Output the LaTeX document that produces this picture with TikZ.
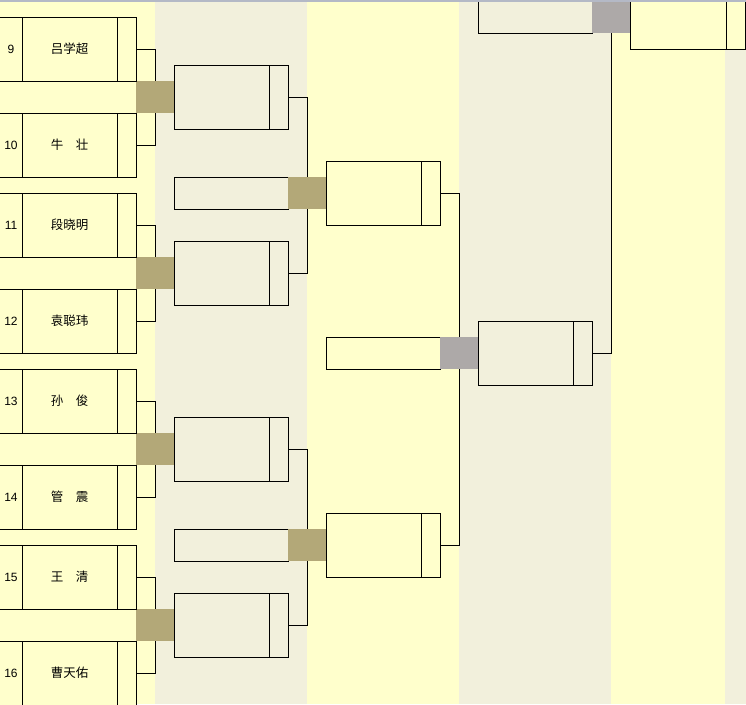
\documentclass[tikz,border=0pt]{standalone}
\usepackage{fontspec}
\setmainfont{Liberation Sans}
\newfontfamily\cjk{Noto Sans CJK SC}
\definecolor{ylw}{HTML}{FFFFCC}
\definecolor{bge}{HTML}{F2F0DC}
\definecolor{khaki}{HTML}{B3A878}
\definecolor{gry}{HTML}{ADA9A8}
\definecolor{hdr}{HTML}{B4B9C6}
\tikzset{
  boxbase/.style={draw=black, line width=1pt, inner sep=0pt, outer sep=0pt, anchor=north west},
  pbox/.style={boxbase, fill=ylw, minimum width=138pt, minimum height=64pt},
  rboxb/.style={boxbase, fill=bge, minimum width=114pt, minimum height=64pt},
  rboxy/.style={boxbase, fill=ylw, minimum width=114pt, minimum height=64pt},
  eboxb/.style={boxbase, fill=bge, minimum width=114pt, minimum height=32pt},
  eboxy/.style={boxbase, fill=ylw, minimum width=114pt, minimum height=32pt},
  kbox/.style={fill=khaki, inner sep=0pt, outer sep=0pt, minimum width=38pt, minimum height=32pt, anchor=north west},
  gbox/.style={kbox, fill=gry},
  conn/.style={draw=black, line width=1pt},
  numtxt/.style={font=\fontsize{12}{14}\selectfont, inner sep=0pt},
  nametxt/.style={font=\cjk\fontsize{12.5}{14}\selectfont, inner sep=0pt}
}
\begin{document}
\begin{tikzpicture}[x=1pt,y=-1pt]
\useasboundingbox (0,0) rectangle (746,704);
% column backgrounds
\fill[ylw] (0,0) rectangle (155,704);
\fill[bge] (155,0) rectangle (307,704);
\fill[ylw] (307,0) rectangle (459,704);
\fill[bge] (459,0) rectangle (611,704);
\fill[ylw] (611,0) rectangle (725,704);
\fill[bge] (725,0) rectangle (746,704);
% round 1 pairs
\foreach \i/\na/\nb/\ta/\tb in {0/9/10/吕学超/牛　壮, 1/11/12/段晓明/袁聪玮, 2/13/14/孙　俊/管　震, 3/15/16/王　清/曹天佑}{
  \pgfmathsetmacro{\b}{17+176*\i}
  \node[kbox] (k\i) at (136,\b+64) {};
  \node[pbox] (pa\i) at (-2,\b) {};
  \node[pbox] (pb\i) at (-2,\b+96) {};
  \draw[conn] (22,\b) -- (22,\b+64) (117,\b) -- (117,\b+64);
  \draw[conn] (22,\b+96) -- (22,\b+160) (117,\b+96) -- (117,\b+160);
  \node[numtxt] (na\i) at (11,\b+32) {\na};
  \node[numtxt] (nb\i) at (11,\b+128) {\nb};
  \node[nametxt] (ta\i) at (69.5,\b+32) {\ta};
  \node[nametxt] (tb\i) at (69.5,\b+128) {\tb};
  \node[rboxb] (r\i) at (174,\b+48) {};
  \draw[conn] (269,\b+48) -- (269,\b+112);
  \draw[conn] (pa\i.east) -| (k\i.north);
  \draw[conn] (pb\i.east) -| (k\i.south);
}
% round 2 -> 3
\foreach \j/\u/\v in {0/0/1, 1/2/3}{
  \pgfmathsetmacro{\B}{17+352*\j}
  \node[eboxb] (e\j) at (174,\B+160) {};
  \node[kbox] (kk\j) at (288,\B+160) {};
  \node[rboxy] (s\j) at (326,\B+144) {};
  \draw[conn] (421,\B+144) -- (421,\B+208);
  \draw[conn] (r\u.east) -| (kk\j.north);
  \draw[conn] (r\v.east) -| (kk\j.south);
}
% round 3 -> 4
\node[eboxy] (em) at (326,337) {};
\node[gbox] (gm) at (440,337) {};
\node[rboxb] (q) at (478,321) {};
\draw[conn] (573,321) -- (573,385);
\draw[conn] (s0.east) -| (gm.north);
\draw[conn] (s1.east) -| (gm.south);
% final
\node[eboxb] (et) at (478,1) {};
\node[gbox] (gt) at (592,1) {};
\node[rboxy, minimum width=115pt] (f) at (630,-15) {};
\draw[conn] (726,-15) -- (726,49);
\draw[conn] (q.east) -| (gt.south);
% header line
\fill[white] (0,0) rectangle (746,0.3);
\draw[hdr, line width=1.5pt] (0,0.75) -- (746,0.75);
\foreach \t in {0,...,38}{
  \draw[hdr, line width=0.8pt] (3.3+19*\t,0) -- (3.3+19*\t,2.4);
}
\end{tikzpicture}
\end{document}
